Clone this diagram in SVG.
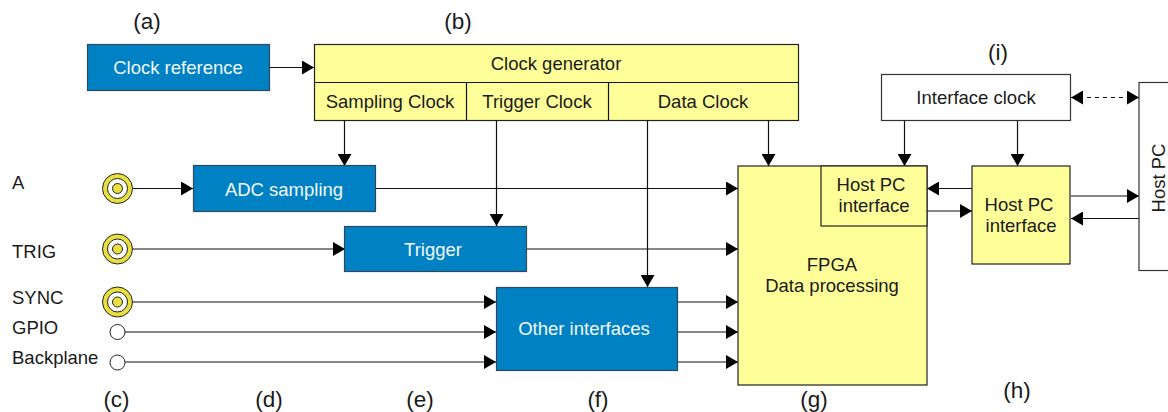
<svg xmlns="http://www.w3.org/2000/svg" width="1168" height="412" viewBox="0 0 1168 412">
<style>
text{font-family:"Liberation Sans",Arial,sans-serif;font-size:18.500px;fill:#1a1a1a;text-anchor:middle}
.s{text-anchor:start}
.l{font-size:22.500px}
.w{fill:#f2f8fc}
.b{fill:#0081c3;stroke:#2d4a5c;stroke-width:1.200}
.y{fill:#ffff99;stroke:#222;stroke-width:1.200}
.n{fill:#fff;stroke:#333;stroke-width:1.200}
.c{stroke:#111;stroke-width:1.200;fill:none}
.co{fill:#e8e040;stroke:#222;stroke-width:1}
.ci{fill:#fff;stroke:#222;stroke-width:1}
#connectors path{stroke:#111;stroke-width:1.200;fill:none}
</style>
<defs>
<marker id="a" markerUnits="userSpaceOnUse" markerWidth="12" markerHeight="14" refX="12" refY="7" orient="auto"><path d="M0 0L12 7L0 14Z" fill="#000"/></marker>
<marker id="as" markerUnits="userSpaceOnUse" markerWidth="12" markerHeight="14" refX="0" refY="7" orient="auto"><path d="M12 0L0 7L12 14Z" fill="#000"/></marker>
</defs>
<rect width="1168" height="412" fill="#fff"/>
<g id="labels">
<text class="l" x="147" y="29">(a)</text>
<text class="l" x="458" y="29">(b)</text>
<text class="l" x="998" y="60">(i)</text>
<text class="l" x="116.500" y="407">(c)</text>
<text class="l" x="269" y="407">(d)</text>
<text class="l" x="420" y="407">(e)</text>
<text class="l" x="598" y="407">(f)</text>
<text class="l" x="814" y="407">(g)</text>
<text class="l" x="1017" y="398">(h)</text>
<text class="s" x="12" y="189">A</text>
<text class="s" x="12" y="258">TRIG</text>
<text class="s" x="12" y="304">SYNC</text>
<text class="s" x="12" y="334">GPIO</text>
<text class="s" x="12" y="364">Backplane</text>
</g>
<g id="connectors">
<path marker-end="url(#a)" d="M269 67.500H314"/>
<path marker-end="url(#a)" d="M344.500 120V166"/>
<path marker-end="url(#a)" d="M496.500 120V226"/>
<path marker-end="url(#a)" d="M647.500 120V287"/>
<path marker-end="url(#a)" d="M768.500 120V166"/>
<path marker-end="url(#a)" d="M904.500 120V166"/>
<path marker-end="url(#a)" d="M1017.500 120V166"/>
<path marker-end="url(#a)" d="M133 188.500H193"/>
<path marker-end="url(#a)" d="M375 188.500H738"/>
<path marker-end="url(#a)" d="M133 249H345"/>
<path marker-end="url(#a)" d="M526 249H738"/>
<path marker-end="url(#a)" d="M133 302H496"/>
<path marker-end="url(#a)" d="M125 332H496"/>
<path marker-end="url(#a)" d="M125 362H496"/>
<path marker-end="url(#a)" d="M677 302H738"/>
<path marker-end="url(#a)" d="M677 332H738"/>
<path marker-end="url(#a)" d="M677 362H738"/>
<path marker-end="url(#a)" d="M972 188.500H927"/>
<path marker-end="url(#a)" d="M927 211H972"/>
<path marker-end="url(#a)" d="M1071 196H1139"/>
<path marker-end="url(#a)" d="M1139 218.500H1071"/>
<path marker-start="url(#as)" marker-end="url(#a)" stroke-dasharray="4 4" d="M1071 97.500H1139"/>
</g>
<g id="clock-reference"><rect class="b" x="87.500" y="44.500" width="182" height="46"/><text class="w" x="178" y="74">Clock reference</text></g>
<g id="clock-generator">
<rect class="y" x="314.500" y="44.500" width="484" height="76"/>
<path class="c" d="M314.500 82.500H798.500M466.500 82.500V120.500M608.500 82.500V120.500"/>
<text x="556" y="70">Clock generator</text>
<text x="390" y="108">Sampling Clock</text>
<text x="537" y="108">Trigger Clock</text>
<text x="703" y="108">Data Clock</text>
</g>
<g id="adc-sampling"><rect class="b" x="193.500" y="165.500" width="182" height="46"/><text class="w" x="284" y="196">ADC sampling</text></g>
<g id="trigger"><rect class="b" x="344.500" y="226.500" width="182" height="45"/><text class="w" x="433" y="256">Trigger</text></g>
<g id="other-interfaces"><rect class="b" x="496.500" y="287.500" width="181" height="83"/><text class="w" x="584" y="335">Other interfaces</text></g>
<g id="fpga"><rect class="y" x="738" y="166" width="189" height="219"/><text x="832" y="271">FPGA</text><text x="832" y="292">Data processing</text></g>
<g id="fpga-host-interface"><rect class="y" x="821" y="166" width="106" height="60"/><text x="871" y="191">Host PC</text><text x="874" y="212">interface</text></g>
<g id="host-interface"><rect class="y" x="972" y="166" width="98" height="98"/><text x="1019" y="211">Host PC</text><text x="1021" y="232">interface</text></g>
<g id="interface-clock"><rect class="n" x="881.500" y="74.500" width="189" height="46"/><text x="976" y="104">Interface clock</text></g>
<g id="host-pc"><rect class="n" x="1139" y="82.500" width="40" height="188"/><text transform="translate(1164.500 178) rotate(-90)">Host PC</text></g>
<g id="port-a"><circle class="co" cx="117.500" cy="188.500" r="15"/><circle class="ci" cx="117.500" cy="188.500" r="10"/><circle class="co" cx="117.500" cy="188.500" r="5"/></g>
<g id="port-trig"><circle class="co" cx="117.500" cy="249" r="15"/><circle class="ci" cx="117.500" cy="249" r="10"/><circle class="co" cx="117.500" cy="249" r="5"/></g>
<g id="port-sync"><circle class="co" cx="117.500" cy="302" r="15"/><circle class="ci" cx="117.500" cy="302" r="10"/><circle class="co" cx="117.500" cy="302" r="5"/></g>
<g id="port-gpio"><circle class="ci" cx="117.500" cy="332" r="7.500"/></g>
<g id="port-backplane"><circle class="ci" cx="117.500" cy="362.500" r="7.500"/></g>
</svg>
